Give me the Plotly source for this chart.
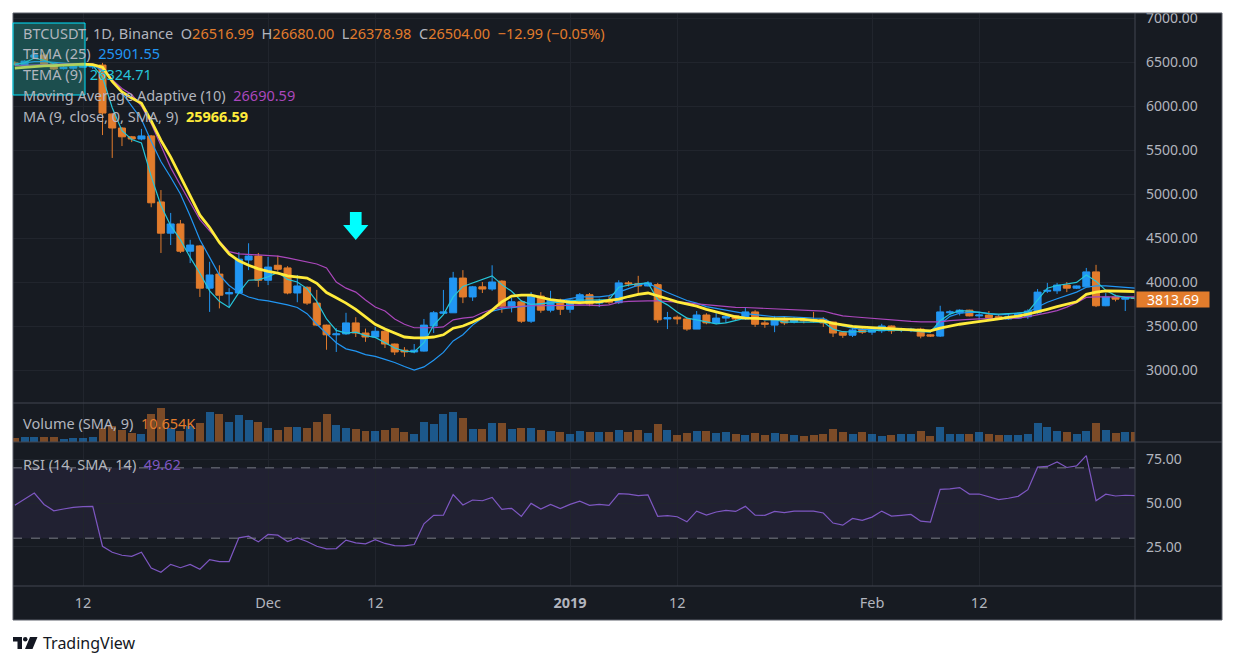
import pandas as pd
import plotly.graph_objects as go
from plotly.subplots import make_subplots

# ---------- data ----------
dates = pd.date_range("2018-11-05", "2019-02-28", freq="D")

opens = [
    6490, 6455, 6555, 6580, 6480, 6425, 6430, 6440, 6445, 6465,
    5910, 5750, 5650, 5625, 5660, 4910, 4555, 4660, 4350, 4410,
    3930, 4090, 3865, 3875, 4250, 4295, 4020, 4190, 4160, 3875,
    3940, 3760, 3510, 3400, 3410, 3535, 3420, 3375, 3440, 3295,
    3225, 3205, 3215, 3500, 3645, 3650, 4045, 3830, 3945, 3920,
    4010, 3725, 3775, 3555, 3840, 3680, 3795, 3690, 3785, 3855,
    3760, 3790, 3765, 3990, 3980, 3955, 3970, 3580, 3600, 3580,
    3465, 3625, 3535, 3590, 3615, 3580, 3660, 3535, 3510, 3570,
    3545, 3570, 3575, 3575, 3545, 3430, 3395, 3465, 3430, 3445,
    3500, 3455, 3450, 3465, 3400, 3385, 3650, 3650, 3680, 3615,
    3625, 3605, 3580, 3590, 3605, 3650, 3895, 3900, 3965, 3930,
    3945, 4115, 3730, 3830, 3805, 3825]
highs = [
    6510, 6520, 6625, 6600, 6490, 6450, 6455, 6470, 6480, 6490,
    5920, 5760, 5660, 5740, 5670, 5045, 4785, 4705, 4480, 4420,
    4230, 4190, 3930, 4340, 4440, 4330, 4285, 4300, 4180, 4080,
    3950, 3910, 3515, 3475, 3650, 3600, 3470, 3490, 3480, 3300,
    3260, 3295, 3580, 3670, 3910, 4115, 4135, 3955, 4000, 4190,
    4020, 3820, 3790, 3885, 3885, 3900, 3810, 3800, 3875, 3875,
    3810, 3840, 4020, 4010, 4070, 4010, 3990, 3660, 3620, 3600,
    3670, 3645, 3645, 3625, 3625, 3715, 3680, 3560, 3615, 3600,
    3600, 3590, 3660, 3600, 3550, 3440, 3480, 3480, 3490, 3525,
    3505, 3480, 3480, 3480, 3405, 3730, 3680, 3690, 3685, 3660,
    3670, 3630, 3640, 3645, 3690, 3920, 3990, 3990, 4000, 3960,
    4160, 4195, 3875, 3855, 3830, 3880]
lows = [
    6460, 6440, 6540, 6470, 6410, 6415, 6410, 6430, 6420, 5670,
    5410, 5545, 5590, 5610, 4850, 4330, 4420, 4330, 4215, 3830,
    3660, 3700, 3715, 3870, 4135, 3945, 3965, 4120, 3860, 3770,
    3740, 3500, 3230, 3205, 3400, 3375, 3320, 3370, 3250, 3170,
    3150, 3190, 3210, 3420, 3630, 3650, 3760, 3785, 3875, 3900,
    3650, 3655, 3535, 3535, 3650, 3655, 3625, 3650, 3750, 3725,
    3715, 3750, 3750, 3950, 3860, 3950, 3535, 3465, 3520, 3445,
    3465, 3520, 3520, 3535, 3565, 3570, 3490, 3480, 3430, 3510,
    3530, 3530, 3540, 3490, 3375, 3365, 3375, 3410, 3400, 3420,
    3410, 3430, 3430, 3360, 3375, 3375, 3625, 3620, 3610, 3570,
    3580, 3570, 3570, 3585, 3580, 3640, 3875, 3865, 3885, 3920,
    3940, 3715, 3725, 3780, 3670, 3790]
closes = [
    6470, 6510, 6580, 6480, 6420, 6440, 6445, 6450, 6465, 5920,
    5750, 5650, 5625, 5660, 4900, 4555, 4660, 4350, 4420, 3930,
    4080, 3850, 3880, 4260, 4295, 4020, 4170, 4145, 3875, 3955,
    3760, 3510, 3400, 3410, 3535, 3420, 3375, 3440, 3295, 3205,
    3205, 3225, 3510, 3650, 3660, 4045, 3830, 3945, 3920, 4000,
    3725, 3775, 3555, 3840, 3680, 3795, 3690, 3795, 3855, 3750,
    3785, 3770, 3990, 3980, 3955, 3990, 3570, 3595, 3580, 3465,
    3625, 3535, 3590, 3610, 3580, 3660, 3520, 3520, 3570, 3535,
    3570, 3560, 3555, 3535, 3420, 3395, 3455, 3430, 3465, 3500,
    3445, 3465, 3465, 3385, 3385, 3660, 3660, 3680, 3615, 3625,
    3595, 3580, 3610, 3640, 3670, 3885, 3905, 3965, 3930, 3955,
    4115, 3730, 3830, 3805, 3820, 3813.69]
volumes = [
    8000, 10000, 10000, 10000, 10000, 6000, 8000, 8000, 10000, 28000,
    32000, 24000, 18000, 16000, 56000, 68000, 28000, 22000, 32000, 38000,
    60000, 56000, 40000, 54000, 44000, 40000, 28000, 24000, 30000, 30000,
    28000, 40000, 56000, 34000, 28000, 26000, 22000, 22000, 24000, 28000,
    20000, 16000, 40000, 36000, 56000, 60000, 48000, 26000, 26000, 38000,
    38000, 26000, 28000, 28000, 24000, 22000, 20000, 16000, 22000, 20000,
    20000, 20000, 24000, 20000, 24000, 18000, 36000, 24000, 14000, 18000,
    22000, 22000, 18000, 20000, 16000, 14000, 18000, 14000, 18000, 16000,
    14000, 12000, 14000, 16000, 26000, 20000, 16000, 20000, 16000, 12000,
    14000, 16000, 16000, 22000, 12000, 30000, 16000, 16000, 16000, 20000,
    16000, 14000, 14000, 14000, 16000, 38000, 30000, 22000, 20000, 16000,
    22000, 38000, 24000, 18000, 20000, 20000]
tema25 = [
    6475, 6490, 6505, 6505, 6495, 6485, 6480, 6475, 6465, 6400,
    6300, 6150, 6000, 5850, 5600, 5370, 5190, 5000, 4750, 4480,
    4280, 4080, 3960, 3880, 3830, 3800, 3785, 3765, 3740, 3710,
    3640, 3520, 3420, 3310, 3240, 3215, 3175, 3155, 3120, 3085,
    3040, 3000, 3035, 3110, 3200, 3330, 3400, 3510, 3590, 3670,
    3695, 3710, 3720, 3730, 3750, 3770, 3795, 3810, 3830, 3830,
    3830, 3845, 3885, 3930, 3965, 3990, 3930, 3880, 3835, 3790,
    3760, 3720, 3700, 3680, 3665, 3640, 3630, 3615, 3605, 3608,
    3600, 3595, 3590, 3588, 3530, 3500, 3475, 3462, 3458, 3455,
    3452, 3450, 3447, 3445, 3445, 3520, 3610, 3645, 3655, 3658,
    3640, 3625, 3635, 3645, 3655, 3715, 3770, 3810, 3850, 3885,
    3940, 3955, 3955, 3945, 3938, 3930]
tema9 = [
    6470, 6490, 6545, 6520, 6480, 6460, 6455, 6455, 6460, 6330,
    5980, 5720, 5620, 5580, 5200, 4870, 4640, 4480, 4280, 4100,
    3900, 3780, 3710, 3880, 4020, 4025, 4060, 4110, 4030, 4000,
    3925, 3780, 3580, 3450, 3420, 3430, 3390, 3370, 3310, 3250,
    3215, 3205, 3310, 3510, 3630, 3830, 3950, 3990, 4030, 4070,
    3970, 3895, 3785, 3745, 3755, 3760, 3770, 3785, 3795, 3795,
    3795, 3800, 3940, 3965, 3980, 3990, 3800, 3740, 3660, 3590,
    3570, 3545, 3525, 3535, 3565, 3590, 3590, 3570, 3575, 3545,
    3545, 3545, 3545, 3545, 3465, 3435, 3432, 3440, 3445, 3452,
    3455, 3455, 3450, 3435, 3430, 3560, 3635, 3675, 3670, 3655,
    3640, 3635, 3640, 3648, 3660, 3795, 3930, 3960, 3975, 3995,
    4080, 4010, 3905, 3845, 3825, 3815]
maa10 = [
    6460, 6465, 6470, 6475, 6478, 6480, 6482, 6480, 6475, 6420,
    6300, 6200, 6130, 6000, 5800, 5550, 5300, 5100, 4900, 4710,
    4580, 4465, 4345, 4320, 4315, 4310, 4305, 4295, 4275, 4250,
    4225, 4205, 4160, 4000, 3930, 3885, 3795, 3715, 3670, 3580,
    3520, 3480, 3480, 3480, 3490, 3570, 3590, 3600, 3650, 3690,
    3712, 3720, 3725, 3730, 3730, 3730, 3732, 3735, 3740, 3738,
    3732, 3740, 3770, 3780, 3785, 3785, 3785, 3780, 3775, 3765,
    3752, 3740, 3730, 3720, 3712, 3710, 3706, 3703, 3698, 3693,
    3690, 3685, 3680, 3670, 3640, 3615, 3605, 3595, 3585, 3575,
    3568, 3560, 3552, 3546, 3545, 3546, 3560, 3570, 3575, 3580,
    3582, 3585, 3588, 3590, 3605, 3625, 3650, 3675, 3715, 3765,
    3825, 3830, 3830, 3830, 3830, 3830]
ma9 = [
    6430, 6440, 6450, 6455, 6460, 6465, 6470, 6475, 6470, 6440,
    6280, 6160, 6090, 6030, 5830, 5610, 5420, 5200, 4980, 4760,
    4620, 4450, 4320, 4240, 4190, 4150, 4120, 4100, 4070, 4055,
    4045, 3985, 3880, 3820, 3760, 3690, 3600, 3520, 3465, 3420,
    3375, 3365, 3365, 3375, 3400, 3475, 3500, 3545, 3600, 3680,
    3775, 3840, 3850, 3850, 3825, 3800, 3785, 3770, 3765, 3770,
    3775, 3790, 3805, 3835, 3860, 3875, 3845, 3810, 3775, 3750,
    3725, 3690, 3660, 3630, 3605, 3590, 3585, 3580, 3580, 3580,
    3580, 3575, 3565, 3555, 3530, 3510, 3495, 3488, 3482, 3478,
    3470, 3465, 3458, 3450, 3445, 3475, 3500, 3520, 3535, 3548,
    3565, 3580, 3598, 3612, 3635, 3660, 3690, 3720, 3745, 3775,
    3860, 3885, 3900, 3900, 3895, 3890]
rsi = [
    48.7, 52.1, 55.7, 49.2, 45.6, 46.6, 47.5, 47.9, 48.1, 25.4,
    22.0, 20.3, 19.7, 22.0, 13.0, 10.6, 15.1, 13.2, 15.1, 12.3,
    17.8, 16.7, 16.7, 30.2, 31.1, 27.9, 32.1, 31.7, 28.1, 30.2,
    28.1, 25.4, 23.9, 24.1, 28.9, 27.3, 26.8, 29.2, 27.0, 25.8,
    25.6, 26.4, 38.2, 43.0, 43.1, 54.8, 48.9, 51.7, 51.3, 53.2,
    46.4, 47.0, 42.4, 49.8, 46.6, 49.2, 46.8, 49.2, 51.0, 48.7,
    49.2, 48.7, 55.3, 55.0, 54.2, 54.6, 42.4, 42.8, 42.2, 39.3,
    45.4, 43.1, 44.9, 45.8, 45.2, 48.1, 43.1, 43.0, 45.2, 44.5,
    45.4, 45.4, 45.4, 44.3, 38.6, 37.4, 41.2, 40.1, 42.0, 45.4,
    42.6, 43.0, 43.5, 39.7, 39.1, 57.8, 58.0, 58.8, 55.1, 55.1,
    53.4, 51.9, 52.7, 53.8, 57.6, 70.4, 70.8, 73.4, 70.2, 71.1,
    76.9, 51.3, 55.0, 54.0, 54.4, 54.2]

tick_dates = ["2018-11-12", "2018-12-01", "2018-12-12", "2019-01-01",
              "2019-01-12", "2019-02-01", "2019-02-12"]
tick_text = ["12", "Dec", "12", "<b>2019</b>", "12", "Feb", "12"]
price_ticks = [3000, 3500, 4000, 4500, 5000, 5500, 6000, 6500, 7000]
rsi_ticks = [25, 50, 75]

# the drawn arrow marker
arrow_date = pd.Timestamp("2018-12-10")
arrow_top, arrow_mid, arrow_tip = 4795, 4648, 4477

# ---------- styling ----------
BG = "#171B22"
GRID = "#21252D"
TXT = "#B2B5BE"
UP = "#2196F3"
DOWN = "#E27C2C"
SEP = "#434651"
FONT = "Noto Sans"
FS = 14.5
AXFS = 14

# page is drawn with an 8px body margin, positions below are page pixels
OFF = 8
W, H = 1235 - 2 * OFF, 665 - 2 * OFF
L, T = 13 - OFF, 13 - OFF
R = W - (1135 - OFF)
B = H - (586 - OFF)
PW, PH = W - L - R, H - T - B


def px(x):
    return (x - OFF - L) / PW


def py(y):
    return (H - B - (y - OFF)) / PH


fig = make_subplots(rows=3, cols=1, shared_xaxes=True, vertical_spacing=0,
                    row_heights=[390, 39, 144])

fig.add_trace(go.Candlestick(
    x=dates, open=opens, high=highs, low=lows, close=closes,
    increasing=dict(line=dict(color=UP, width=1), fillcolor=UP),
    decreasing=dict(line=dict(color=DOWN, width=1), fillcolor=DOWN),
    whiskerwidth=0, showlegend=False), row=1, col=1)

for vals, col, w in [(tema25, "#2196F3", 1.2), (maa10, "#AB47BC", 1.2),
                     (tema9, "#26C6DA", 1.2), (ma9, "#FFEB3B", 2.8)]:
    fig.add_trace(go.Scatter(x=dates, y=vals, mode="lines",
                             line=dict(color=col, width=w),
                             showlegend=False, hoverinfo="skip"), row=1, col=1)

# arrow drawing
d = pd.Timedelta(days=1)
ax_ = [arrow_date - 0.6 * d, arrow_date + 0.6 * d, arrow_date + 0.6 * d,
       arrow_date + 1.3 * d, arrow_date, arrow_date - 1.3 * d,
       arrow_date - 0.6 * d, arrow_date - 0.6 * d]
ay_ = [arrow_top, arrow_top, arrow_mid, arrow_mid, arrow_tip, arrow_mid,
       arrow_mid, arrow_top]
fig.add_trace(go.Scatter(x=ax_, y=ay_, mode="lines", fill="toself",
                         fillcolor="#00FFFF", line=dict(width=0),
                         showlegend=False, hoverinfo="skip"), row=1, col=1)

vol_colors = ["rgba(33,150,243,0.5)" if c >= o else "rgba(226,124,44,0.5)"
              for o, c in zip(opens, closes)]
fig.add_trace(go.Bar(x=dates, y=volumes, marker_color=vol_colors,
                     marker_line_width=0, width=0.82 * 86400000,
                     showlegend=False), row=2, col=1)

fig.add_trace(go.Scatter(x=dates, y=rsi, mode="lines",
                         line=dict(color="#7E57C2", width=1.2),
                         showlegend=False), row=3, col=1)

xr = [dates[0] - pd.Timedelta(hours=4.5), dates[-1]]
for i in (1, 2, 3):
    fig.update_xaxes(row=i, col=1, range=xr, tickvals=tick_dates,
                     ticktext=tick_text, showgrid=True, gridcolor=GRID,
                     zeroline=False, showline=False, ticks="",
                     showticklabels=(i == 3), automargin=False,
                     tickfont=dict(family=FONT, size=FS, color=TXT),
                     ticklabelstandoff=6)
fig.update_xaxes(rangeslider_visible=False)

fig.update_yaxes(row=1, col=1, range=[2625, 7057], tickvals=price_ticks,
                 ticktext=[f"{v:.2f}" for v in price_ticks], side="right",
                 showgrid=True, gridcolor=GRID, zeroline=False, ticks="",
                 tickfont=dict(family=FONT, size=AXFS, color=TXT),
                 ticklabelstandoff=10, ticklabeloverflow="allow",
                 automargin=False)
fig.update_yaxes(row=2, col=1, range=[0, 78000], showgrid=False,
                 showticklabels=False, zeroline=False, automargin=False)
fig.update_yaxes(row=3, col=1, range=[2.8, 84.7], tickvals=rsi_ticks,
                 ticktext=[f"{v:.2f}" for v in rsi_ticks], side="right",
                 showgrid=True, gridcolor=GRID, zeroline=False, ticks="",
                 tickfont=dict(family=FONT, size=AXFS, color=TXT),
                 ticklabelstandoff=10, automargin=False)

shapes = [
    dict(type="rect", xref="paper", yref="paper", x0=0, x1=px(1222),
         y0=py(620), y1=1, fillcolor=BG, line=dict(width=0), layer="below"),
    dict(type="rect", xref="x3 domain", yref="y3", x0=0, x1=1, y0=30, y1=70,
         fillcolor="rgba(126,87,194,0.1)", line=dict(width=0), layer="below"),
    dict(type="line", xref="x3 domain", yref="y3", x0=0, x1=1, y0=70, y1=70,
         line=dict(color="#787B86", width=1, dash="dash")),
    dict(type="line", xref="x3 domain", yref="y3", x0=0, x1=1, y0=30, y1=30,
         line=dict(color="#787B86", width=1, dash="dash")),
    dict(type="line", xref="paper", yref="paper", x0=1, x1=1, y0=py(620), y1=1,
         line=dict(color=SEP, width=1)),
    dict(type="line", xref="paper", yref="paper", x0=0, x1=px(1222), y0=0, y1=0,
         line=dict(color=SEP, width=1)),
    dict(type="line", xref="paper", yref="paper", x0=0, x1=px(1222),
         y0=py(403), y1=py(403), line=dict(color=SEP, width=1)),
    dict(type="line", xref="paper", yref="paper", x0=0, x1=px(1222),
         y0=py(442), y1=py(442), line=dict(color=SEP, width=1)),
    dict(type="rect", xref="paper", yref="paper", x0=0, x1=px(1222),
         y0=py(620), y1=1, line=dict(color="#5D606B", width=1)),
    # teal drawing box in the top-left corner
    dict(type="rect", xref="paper", yref="paper", x0=px(13), x1=px(85),
         y0=py(95), y1=py(23), fillcolor="rgba(38,166,154,0.37)",
         line=dict(color="#00E5FF", width=1), layer="above"),
]

# TradingView logo
logo = [
    [(13, 637), (22, 637), (22, 649), (17.5, 649), (17.5, 641.5), (13, 641.5)],
    [(30, 637), (37.5, 637), (32.5, 649), (25, 649)],
]
for poly in logo:
    path = "M " + " L ".join(f"{px(x)},{py(y)}" for x, y in poly) + " Z"
    shapes.append(dict(type="path", xref="paper", yref="paper", path=path,
                       fillcolor="#131722", line=dict(width=0)))
shapes.append(dict(type="circle", xref="paper", yref="paper", x0=px(23),
                   x1=px(27.5), y0=py(641.5), y1=py(637),
                   fillcolor="#131722", line=dict(width=0)))
fig.update_layout(shapes=shapes)


def span(t, c):
    return f'<span style="color:{c}">{t}</span>'


nb = "\u00a0"
OR = "#E27C2C"
legend_lines = [
    (33, span("BTCUSDT, 1D, Binance" + nb * 2 + "O", TXT) + span("26516.99", OR)
     + span(nb * 2 + "H", TXT) + span("26680.00", OR)
     + span(nb * 2 + "L", TXT) + span("26378.98", OR)
     + span(nb * 2 + "C", TXT) + span("26504.00", OR)
     + span(nb * 2 + "\u221212.99 (\u22120.05%)", OR)),
    (53, span("TEMA (25)" + nb * 2, TXT) + span("25901.55", "#2196F3")),
    (74, span("TEMA (9)" + nb * 2, TXT) + span("26324.71", "#26C6DA")),
    (95, span("Moving Average Adaptive (10)" + nb * 2, TXT) + span("26690.59", "#AB47BC")),
    (116, span("MA (9, close, 0, SMA, 9)" + nb * 2, TXT) + span("<b>25966.59</b>", "#FFEB3B")),
    (423, span("Volume (SMA, 9)" + nb * 2, TXT) + span("10.654K", OR)),
    (464, span("RSI (14, SMA, 14)" + nb * 2, TXT) + span("49.62", "#7E57C2")),
]
annotations = []
for y, txt in legend_lines:
    annotations.append(dict(xref="paper", yref="paper", x=px(21), y=py(y),
                            xanchor="left", yanchor="middle", text=txt,
                            showarrow=False,
                            font=dict(family=FONT, size=FS, color=TXT)))

annotations.append(dict(xref="paper", yref="y", x=1, y=closes[-1],
                        xanchor="left", yanchor="middle", xshift=1, yshift=-1,
                        text=f"{closes[-1]:.2f}", showarrow=False,
                        bgcolor=DOWN, width=70, height=13, borderpad=1,
                        font=dict(family=FONT, size=AXFS, color="white")))
annotations.append(dict(xref="paper", yref="paper", x=px(41), y=py(643),
                        xanchor="left", yanchor="middle", text="TradingView",
                        showarrow=False,
                        font=dict(family=FONT, size=16, color="#131722")))

fig.update_layout(
    width=W, height=H, margin=dict(l=L, r=R, t=T, b=B, autoexpand=False),
    paper_bgcolor="white", plot_bgcolor=BG, bargap=0,
    boxgap=0.28, boxgroupgap=0,
    annotations=annotations, showlegend=False,
    font=dict(family=FONT, size=FS, color=TXT),
)

fig.write_html("out.html")
